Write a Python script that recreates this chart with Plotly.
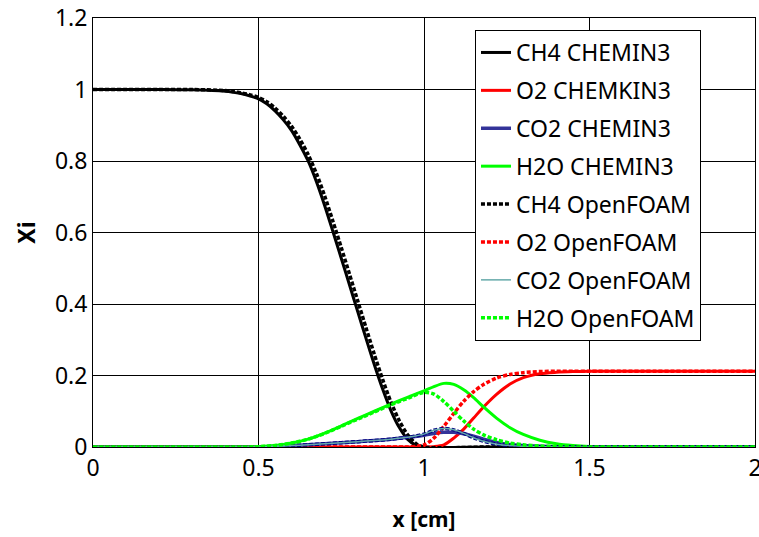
import plotly.graph_objects as go

# ---- data ----
x_ch4 = [0, 0.2, 0.3, 0.4, 0.425, 0.45, 0.475, 0.5, 0.525, 0.55, 0.575, 0.6, 0.625, 0.65, 0.675, 0.7,
         0.725, 0.75, 0.775, 0.8, 0.825, 0.85, 0.875, 0.9, 0.925, 0.95, 0.975, 1.0, 1.2, 1.6, 2.0]
ch4_chemkin = [1.0, 1.0, 0.999, 0.995, 0.992, 0.988, 0.982, 0.974, 0.960, 0.940, 0.915, 0.885, 0.845,
               0.800, 0.742, 0.675, 0.602, 0.528, 0.453, 0.378, 0.303, 0.230, 0.162, 0.102, 0.055,
               0.022, 0.005, 0.0, 0, 0, 0]
ch4_openfoam = [1.0, 1.0, 1.0, 0.997, 0.994, 0.990, 0.985, 0.978, 0.966, 0.948, 0.925, 0.897, 0.861,
                0.818, 0.765, 0.702, 0.631, 0.558, 0.483, 0.408, 0.333, 0.259, 0.189, 0.126, 0.074,
                0.035, 0.010, 0.0, 0, 0, 0]

x_sp = [0, 0.45, 0.5, 0.55, 0.6, 0.65, 0.7, 0.75, 0.8, 0.85, 0.9, 0.95, 1.0, 1.03, 1.06,
        1.09, 1.12, 1.15, 1.18, 1.22, 1.26, 1.3, 1.35, 1.4, 1.45, 1.5, 1.6, 2.0]
o2_chemkin = [0, 0, 0, 0, 0, 0, 0, 0, 0, 0, 0, 0, 0, 0.001, 0.006,
              0.025, 0.05, 0.081, 0.112, 0.148, 0.176, 0.194, 0.205, 0.209, 0.211, 0.212, 0.212, 0.212]
co2_chemkin = [0, 0, 0, 0.002, 0.004, 0.006, 0.009, 0.012, 0.015, 0.018, 0.022, 0.027, 0.033, 0.038, 0.041,
               0.041, 0.037, 0.030, 0.022, 0.013, 0.007, 0.004, 0.002, 0.001, 0, 0, 0, 0]
h2o_chemkin = [0, 0, 0.001, 0.004, 0.011, 0.022, 0.039, 0.059, 0.080, 0.100, 0.120, 0.139, 0.157, 0.169, 0.178,
               0.175, 0.160, 0.138, 0.112, 0.080, 0.054, 0.035, 0.019, 0.009, 0.004, 0.0015, 0.0, 0]
o2_openfoam = [0, 0, 0, 0, 0, 0, 0, 0, 0, 0, 0, 0, 0.006, 0.025, 0.058,
               0.094, 0.128, 0.155, 0.175, 0.193, 0.203, 0.208, 0.211, 0.212, 0.212, 0.212, 0.212, 0.212]
co2_openfoam = [0, 0, 0, 0.002, 0.004, 0.006, 0.009, 0.012, 0.015, 0.018, 0.022, 0.027, 0.036, 0.047, 0.052,
                0.048, 0.038, 0.026, 0.016, 0.008, 0.004, 0.002, 0.001, 0, 0, 0, 0, 0]
h2o_openfoam = [0, 0, 0.001, 0.004, 0.011, 0.022, 0.038, 0.058, 0.078, 0.098, 0.118, 0.136, 0.153, 0.148, 0.127,
                0.100, 0.073, 0.050, 0.034, 0.020, 0.011, 0.006, 0.003, 0.001, 0, 0, 0, 0]

names = ["CH4 CHEMIN3", "O2 CHEMKIN3", "CO2 CHEMIN3", "H2O CHEMIN3",
         "CH4 OpenFOAM", "O2 OpenFOAM", "CO2 OpenFOAM", "H2O OpenFOAM"]

FONT = "Noto Sans"
DOT = "4px,2px"

fig = go.Figure()

def add(x, y, name, color, width, dash="solid", legend=True, group=None):
    fig.add_trace(go.Scatter(
        x=x, y=y, name=name, mode="lines",
        line=dict(color=color, width=width, dash=dash, shape="spline", smoothing=0.8),
        showlegend=legend, legendgroup=group or name))

add(x_ch4, ch4_chemkin, names[0], "#000000", 3)
add(x_sp, o2_chemkin, names[1], "#ff0000", 3)
add(x_sp, co2_chemkin, names[2], "#333399", 3.5)
add(x_sp, h2o_chemkin, names[3], "#00ff00", 3)
add(x_ch4, ch4_openfoam, names[4], "#000000", 3.5, DOT)
add(x_sp, o2_openfoam, names[5], "#ff0000", 3.5, DOT)
add(x_sp, co2_openfoam, names[6] + "_dots", "#000080", 3.5, DOT, legend=False, group=names[6])
add(x_sp, co2_openfoam, names[6], "#66aaaa", 1.5)
add(x_sp, h2o_openfoam, names[7], "#00ff00", 3.5, DOT)

axis_common = dict(
    showgrid=True, gridcolor="#000000", gridwidth=1,
    showline=True, linecolor="#000000", linewidth=1, mirror=True,
    zeroline=False, ticks="", automargin=False,
    tickfont=dict(family=FONT, size=23, color="#000000"),
)

fig.update_layout(
    width=759, height=537,
    margin=dict(l=93, r=4, t=18, b=90),
    paper_bgcolor="white", plot_bgcolor="white",
    showlegend=True,
    legend=dict(
        x=0.577, y=0.972, xanchor="left", yanchor="top",
        bgcolor="white", bordercolor="#000000", borderwidth=1,
        font=dict(family=FONT, size=23, color="#000000"),
        traceorder="grouped", tracegroupgap=5,
    ),
    xaxis=dict(range=[0, 2], tickvals=[0, 0.5, 1, 1.5, 2], ticktext=["0", "0.5", "1", "1.5", "2"],
               ticklabeloverflow="allow",
               title=dict(text="<b>x [cm]</b>", font=dict(family=FONT, size=21, color="#000000"), standoff=30),
               **axis_common),
    yaxis=dict(range=[0, 1.2], tickvals=[0, 0.2, 0.4, 0.6, 0.8, 1.0, 1.2],
               ticktext=["0", "0.2", "0.4", "0.6", "0.8", "1", "1.2"],
               title=dict(text="<b>Xi</b>", font=dict(family=FONT, size=23, color="#000000"), standoff=12),
               **axis_common),
)

fig.write_html("out.html")
